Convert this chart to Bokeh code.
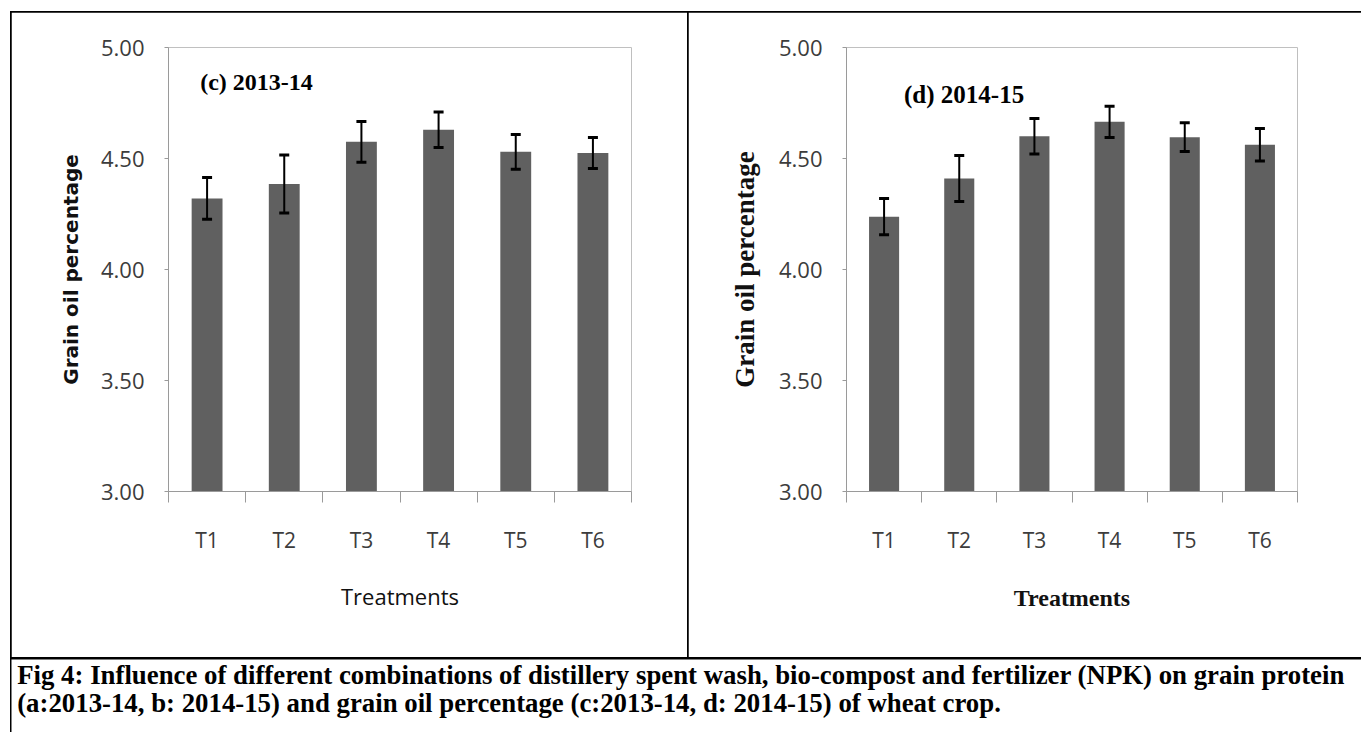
import numpy as np
from bokeh.plotting import figure
from bokeh.models import (Range1d, FixedTicker, NumeralTickFormatter, ColumnDataSource,
                          Whisker, TeeHead, Label, Spacer)
from bokeh.layouts import row, column
from bokeh.embed import file_html
from bokeh.resources import INLINE

# ---------------- data ----------------
treatments = ["T1", "T2", "T3", "T4", "T5", "T6"]
oil_2013_14 = [4.32, 4.385, 4.575, 4.63, 4.53, 4.525]
se_2013_14 = [0.094, 0.131, 0.092, 0.080, 0.078, 0.070]
oil_2014_15 = [4.238, 4.41, 4.60, 4.665, 4.596, 4.562]
se_2014_15 = [0.082, 0.104, 0.080, 0.070, 0.065, 0.073]
y_ticks = [3.00, 3.50, 4.00, 4.50, 5.00]
panel_titles = ["(c) 2013-14", "(d) 2014-15"]
y_label = "Grain oil percentage"
x_label = "Treatments"
caption_lines = [
    "Fig 4: Influence of different combinations of distillery spent wash, bio-compost and fertilizer (NPK) on grain protein",
    "(a:2013-14, b: 2014-15) and  grain oil percentage (c:2013-14, d: 2014-15) of wheat crop.",
]

BAR = "#606060"
AXIS = "#9a9a9a"
TICKTXT = "#3c3c3c"


def make_panel(values, errs, width, bl, br, bt, bb, title, tx, ty, tsize,
               ylab_font, ylab_size, ylab_style, ylab_standoff,
               xlab_font, xlab_size, xlab_style, xlab_standoff):
    n = len(treatments)
    centers = np.arange(n) + 0.5
    vals = np.array(values)
    e = np.array(errs)
    src = ColumnDataSource(dict(x=centers, top=vals, upper=vals + e, lower=vals - e))

    p = figure(width=width, height=645, x_range=Range1d(0, n), y_range=Range1d(y_ticks[0], y_ticks[-1]),
               output_backend="svg", toolbar_location=None, title=None,
               min_border_left=bl, min_border_right=br, min_border_top=bt, min_border_bottom=bb)
    p.outline_line_color = None
    p.xgrid.visible = False
    p.ygrid.visible = False
    p.background_fill_color = "white"
    p.border_fill_color = "white"

    p.vbar(x="x", top="top", bottom=y_ticks[0], width=0.4, source=src,
           fill_color=BAR, line_color=None)

    w = Whisker(base="x", upper="upper", lower="lower", source=src, level="annotation",
                line_color="black", line_width=2,
                upper_head=TeeHead(size=10, line_width=3, line_color="black"),
                lower_head=TeeHead(size=10, line_width=3, line_color="black"))
    p.add_layout(w)

    # x axis: labels at category centres, ticks at category boundaries
    xa = p.xaxis[0]
    xa.ticker = FixedTicker(ticks=list(centers), minor_ticks=list(range(n + 1)))
    xa.major_label_overrides = {float(c): t for c, t in zip(centers, treatments)}
    xa.major_tick_out = 0
    xa.major_tick_in = 0
    xa.minor_tick_out = 11
    xa.minor_tick_in = 0
    xa.minor_tick_line_color = AXIS
    xa.axis_line_color = AXIS
    xa.major_label_text_font = "Open Sans"
    xa.major_label_text_font_size = "21px"
    xa.major_label_text_color = TICKTXT
    xa.major_label_standoff = 23
    xa.axis_label = x_label
    xa.axis_label_text_font = xlab_font
    xa.axis_label_text_font_size = xlab_size
    xa.axis_label_text_font_style = xlab_style
    xa.axis_label_text_color = "#111111"
    xa.axis_label_standoff = xlab_standoff

    ya = p.yaxis[0]
    ya.ticker = FixedTicker(ticks=y_ticks, minor_ticks=[])
    ya.formatter = NumeralTickFormatter(format="0.00")
    ya.major_tick_out = 4
    ya.major_tick_in = 0
    ya.minor_tick_out = 0
    ya.minor_tick_in = 0
    ya.major_tick_line_color = AXIS
    ya.axis_line_color = AXIS
    ya.major_label_text_font = "Open Sans"
    ya.major_label_text_font_size = "22px"
    ya.major_label_text_color = TICKTXT
    ya.major_label_standoff = 20
    ya.axis_label = y_label
    ya.axis_label_text_font = ylab_font
    ya.axis_label_text_font_size = ylab_size
    ya.axis_label_text_font_style = ylab_style
    ya.axis_label_text_color = "#111111"
    ya.axis_label_standoff = ylab_standoff

    p.add_layout(Label(x=tx, y=ty, text=title, text_font="Liberation Serif", text_font_style="bold",
                       text_font_size=tsize, text_baseline="middle", text_align="left",
                       text_color="black"))
    return p


fig_c = make_panel(oil_2013_14, se_2013_14, 676, 157, 56, 35, 166, panel_titles[0], 0.41, 4.845, "24px",
                   "DejaVu Sans", "20px", "bold", 15, "Open Sans", "22px", "normal", 24)
fig_d = make_panel(oil_2014_15, se_2014_15, 673, 158, 64, 35, 165, panel_titles[1], 0.765, 4.79, "25px",
                   "Liberation Serif", "27px", "bold", 16, "Liberation Serif", "24px", "bold", 28)

CAP_W, CAP_H = 1350, 73
cap = figure(width=CAP_W, height=CAP_H, x_range=Range1d(0, CAP_W), y_range=Range1d(CAP_H, 0),
             x_axis_type=None, y_axis_type=None, min_border=0, output_backend="svg",
             toolbar_location=None, title=None)
cap.outline_line_color = None
cap.xgrid.visible = False
cap.ygrid.visible = False
for i, line in enumerate(caption_lines):
    cap.add_layout(Label(x=5.7, y=15 + 28.5 * i, text=line, text_font="Liberation Serif",
                         text_font_style="bold", text_font_size="26.8px",
                         text_baseline="alphabetic", text_align="left", text_color="black"))

inner = column(
    Spacer(width=1351, height=1),
    row(Spacer(width=1, height=645), fig_c, Spacer(width=1, height=645), fig_d),
    Spacer(width=1351, height=2),
    row(Spacer(width=1, height=CAP_H), cap),
    styles={"background-color": "black"},
)
layout = column(Spacer(width=1361, height=11), row(Spacer(width=10, height=721), inner))

open("out.html", "w").write(file_html(layout, INLINE))
